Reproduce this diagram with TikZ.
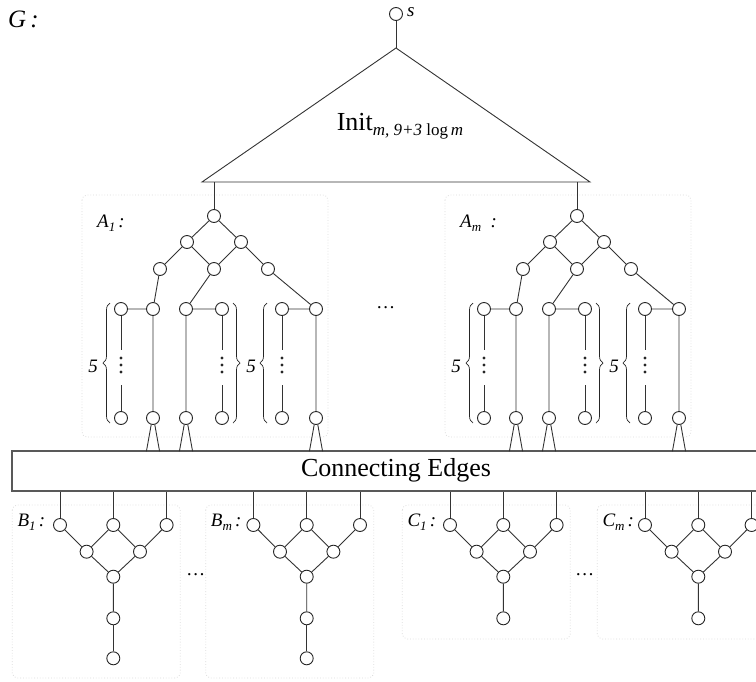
\documentclass[tikz,border=0pt]{standalone}
\usepackage{fontspec}
\setmainfont{Liberation Serif}
\usetikzlibrary{decorations.pathreplacing,calc}

% label fonts
\newcommand\lblfont{\fontsize{19}{22}\selectfont\itshape}
\newcommand\sbs[1]{\raisebox{-4pt}{\fontsize{13}{15}\selectfont #1}}

% one gadget of the A family: top vertex at (x,216)
% #1 name prefix, #2 x of the top vertex, #3 label
\newcommand\agadget[3]{%
\begin{scope}[shift={(#2,216)}]
  \draw[gbox] (-132,-21) rectangle (114,221);
  \node[lbl,anchor=west] (#1lab) at (-117,7) {#3};
  \node[vtx] (#1t) at (0,0) {};
  \node[vtx] (#1u1) at (-27,26) {};
  \node[vtx] (#1u2) at (27,26) {};
  \node[vtx] (#1v1) at (-54,53) {};
  \node[vtx] (#1v2) at (0,53) {};
  \node[vtx] (#1v3) at (54,53) {};
  \foreach \i/\x in {1/-93,2/-61,3/-28,4/8,5/68,6/102}{
    \node[vtx] (#1p\i) at (\x,93) {};
    \node[vtx] (#1q\i) at (\x,202) {};
  }
  \draw[edge] (#1t)--(#1u1) (#1t)--(#1u2)
    (#1u1)--(#1v1) (#1u1)--(#1v2) (#1u2)--(#1v2) (#1u2)--(#1v3)
    (#1v1)--(#1p2) (#1v2)--(#1p3) (#1v3)--(#1p6)
    (#1p1)--(#1p2) (#1p3)--(#1p4) (#1p5)--(#1p6)
    (#1p2)--(#1q2) (#1p3)--(#1q3) (#1p6)--(#1q6);
  % paths of length 5, drawn broken with vertical dots
  \foreach \i/\x in {1/-93,4/8,5/68}{
    \coordinate (#1s\i) at (\x,134);
    \coordinate (#1e\i) at (\x,169);
    \draw[edge] (#1p\i)--(#1s\i) (#1e\i)--(#1q\i);
    \foreach \y in {142,149,156} \fill[black!85] (\x,\y) circle (1.6pt);
  }
  \draw[brc] (-104,207) -- (-104,87);
  \draw[brc] (19,87) -- (19,207);
  \draw[brc] (53,207) -- (53,87);
  \node[lbl] (#1n1) at (-121,150) {5};
  \node[lbl] (#1n2) at (37,150) {5};
  % fan-out into the connecting edges
  \foreach \i in {2,3,6}{
    \draw[edge] (#1q\i.255) -- ++(-4.8,26.7);
    \draw[edge] (#1q\i.285) -- ++(4.8,26.7);
  }
\end{scope}}

% one gadget of the B/C family: top middle vertex at (x,525)
% #1 prefix, #2 x, #3 label, #4 box height below the top row
\newcommand\tgadget[4]{%
\begin{scope}[shift={(#2,525)}]
  \draw[gbox] (-101,-20) rectangle (67,#4);
  \node[lbl,anchor=west] (#1lab) at (-96,-3) {#3};
  \node[vtx] (#1a) at (-53.3,0) {};
  \node[vtx] (#1b) at (0,0) {};
  \node[vtx] (#1c) at (53.3,0) {};
  \node[vtx] (#1m1) at (-26.7,26.7) {};
  \node[vtx] (#1m2) at (26.7,26.7) {};
  \node[vtx] (#1d) at (0,51.7) {};
  \node[vtx] (#1f) at (0,93.3) {};
  \draw[edge] (#1a)--(#1m1) (#1b)--(#1m1) (#1b)--(#1m2) (#1c)--(#1m2)
    (#1m1)--(#1d) (#1m2)--(#1d) (#1d)--(#1f);
  \foreach \k in {a,b,c} \draw[edge] (#1\k) -- (#1\k |- conn.south);
\end{scope}}

\begin{document}
\begin{tikzpicture}[x=1pt,y=-1pt,
  vtx/.style={circle,draw=black!85,fill=white,line width=0.9pt,minimum size=13pt,inner sep=0pt},
  edge/.style={draw=black!80,line width=0.9pt},
  gbox/.style={draw=black!14,dotted,line width=0.8pt,rounded corners=5pt},
  lbl/.style={font=\lblfont,inner sep=0pt},
  brc/.style={draw=black!85,line width=0.7pt,decorate,decoration={brace,amplitude=7pt,aspect=0.5}},
  cbox/.style={draw=black!65,line width=1.2pt,fill=white,inner sep=0pt}]
\useasboundingbox (0,0) rectangle (756,681);

% title
\node[font=\fontsize{25}{30}\selectfont\itshape,anchor=west,inner sep=0pt] (title) at (8,19) {G\,:};

% source and initial tree
\node[vtx] (src) at (396,14) {};
\node[lbl,anchor=west] (srclab) at (407,12) {s};
\coordinate (apex) at (396,48);
\coordinate (bl) at (202,182);
\coordinate (br) at (590,182);
\draw[edge] (src) -- (apex);
\draw[edge] (bl) -- (apex) -- (br) -- cycle;
\node[inner sep=0pt] (init) at (400,126)
  {{\fontsize{26}{30}\selectfont Init}\raisebox{-5pt}{\fontsize{17}{20}\selectfont\itshape m, 9+3 \upshape log\,\itshape m}};

% connecting edges
\node[cbox,minimum width=758pt,minimum height=40pt] (conn) at (391,471) {};
\node[font=\fontsize{26}{30}\selectfont,inner sep=0pt] (connlab) at (396,470) {Connecting Edges};

% A gadgets
\agadget{a1}{214}{A\sbs{1}\,:}
\agadget{am}{577}{A\sbs{m}\ \ :}
\draw[edge] (a1t) -- (a1t |- bl);
\draw[edge] (amt) -- (amt |- br);
\node[lbl] (adots) at (386,308) {\dots};

% B and C gadgets
\tgadget{b1}{113.3}{B\sbs{1}\,:}{153}
\node[vtx] (b1g) at (113.3,658.3) {};
\draw[edge] (b1f) -- (b1g);
\tgadget{bm}{306.7}{B\sbs{m}\,:}{153}
\node[vtx] (bmg) at (306.7,658.3) {};
\draw[edge] (bmf) -- (bmg);
\node[lbl] (bdots) at (196,575) {\dots};

\tgadget{c1}{503.3}{C\sbs{1}\,:}{114}
\tgadget{cm}{698.3}{C\sbs{m}\,:}{114}
\node[lbl] (cdots) at (585,575) {\dots};
\end{tikzpicture}
\end{document}
